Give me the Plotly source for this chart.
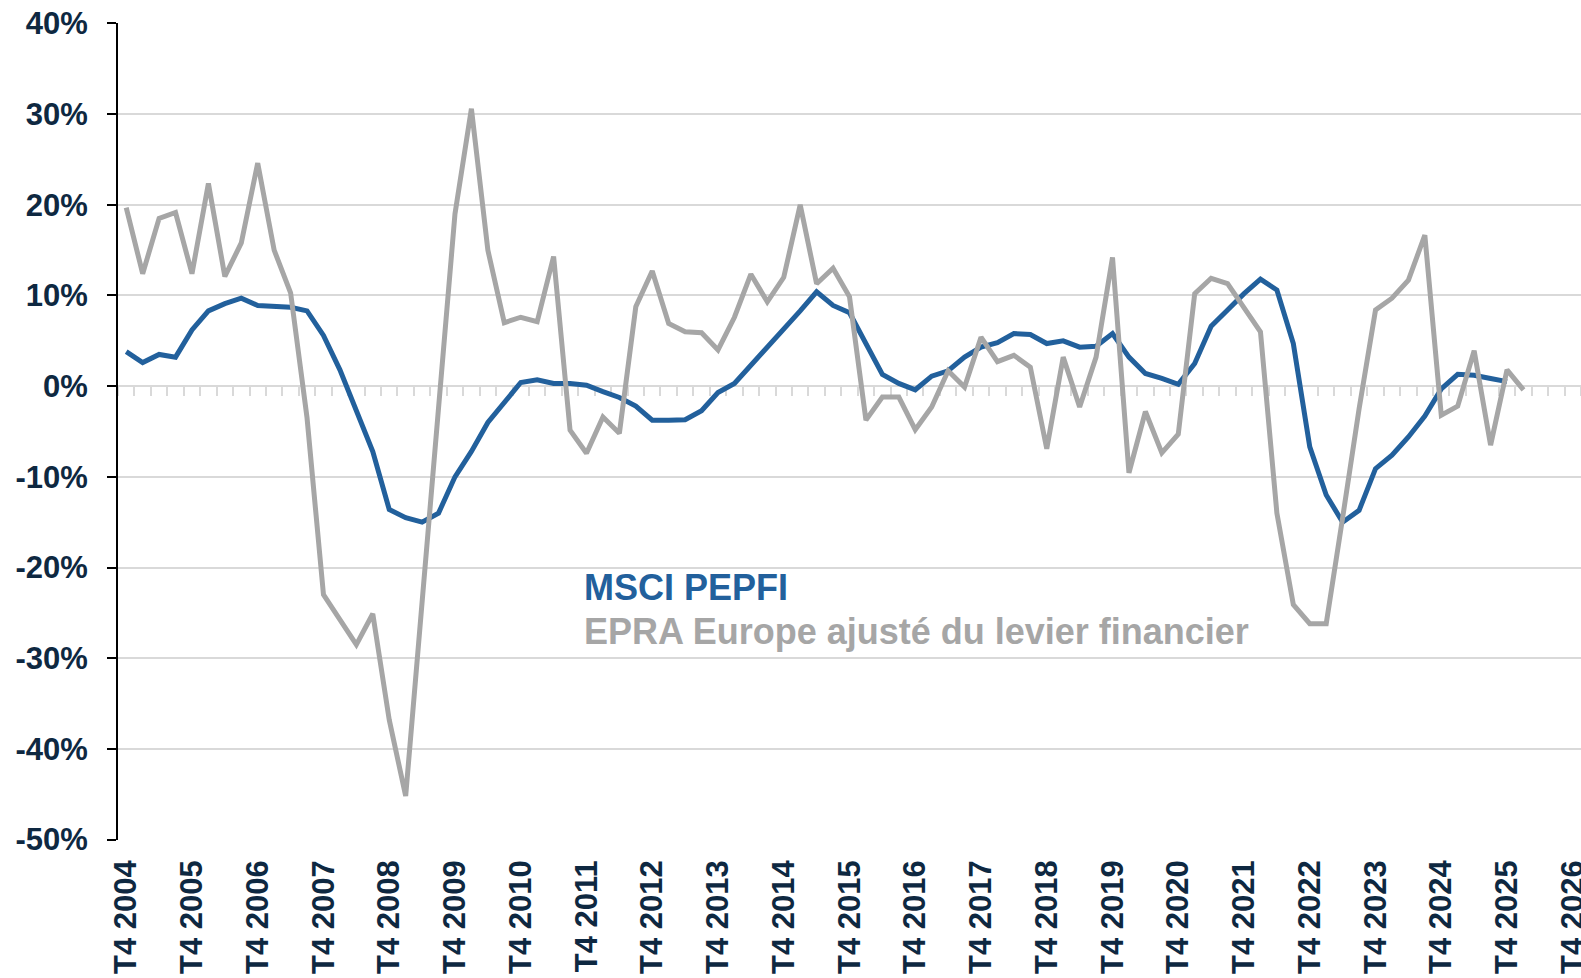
import plotly.graph_objects as go

# Quarterly categories: T4 2004 (index 0) ... T4 2026 (index 88)
years = list(range(2004, 2027))
tick_positions = [4 * k for k in range(len(years))]
tick_labels = ["T4 %d" % y for y in years]

# MSCI PEPFI (T4 2004 -> T4 2025)
msci = [3.8, 2.6, 3.5, 3.2, 6.2, 8.3, 9.1, 9.7, 8.9, 8.8,
        8.7, 8.3, 5.6, 1.8, -2.6, -7.2, -13.6, -14.5, -15.0, -14.0,
        -10.0, -7.2, -4.0, -1.7, 0.4, 0.7, 0.3, 0.3, 0.1, -0.6,
        -1.25, -2.2, -3.75, -3.75, -3.7, -2.7, -0.7, 0.3, 2.3, 4.15,
        6.2, 8.3, 10.4, 8.9, 8.1, 4.7, 1.3, 0.3, -0.4, 1.1,
        1.7, 3.2, 4.3, 4.8, 5.8, 5.7, 4.7, 5.0, 4.3, 4.4,
        5.8, 3.2, 1.4, 0.85, 0.2, 2.5, 6.6, 8.4, 10.2, 11.8,
        10.6, 4.7, -6.7, -12.0, -15.0, -13.7, -9.1, -7.6, -5.6, -3.3,
        -0.3, 1.3, 1.2, 0.85, 0.5]

# EPRA Europe ajusté du levier financier (T4 2004 -> T1 2026)
epra = [19.7, 12.4, 18.5, 19.15, 12.4, 22.35, 12.1, 15.8, 24.6, 15.0,
        10.3, -3.5, -23.0, -25.7, -28.5, -25.1, -36.8, -45.2, -24.0, -3.6,
        19.0, 30.6, 15.0, 7.0, 7.6, 7.1, 14.3, -4.85, -7.4, -3.4,
        -5.2, 8.75, 12.7, 6.9, 6.0, 5.9, 4.0, 7.6, 12.35, 9.3,
        12.0, 20.0, 11.3, 13.0, 9.85, -3.75, -1.2, -1.2, -4.8, -2.3,
        1.7, -0.1, 5.4, 2.7, 3.4, 2.1, -6.9, 3.2, -2.3, 3.2,
        14.2, -9.55, -2.8, -7.35, -5.3, 10.2, 11.9, 11.3, 8.75, 6.0,
        -14.0, -24.1, -26.2, -26.2, -14.5, -2.5, 8.4, 9.7, 11.7, 16.65,
        -3.2, -2.2, 3.9, -6.5, 1.8, -0.4]

y_ticks = [40, 30, 20, 10, 0, -10, -20, -30, -40, -50]
y_labels = ["40%", "30%", "20%", "10%", "0%", "-10%", "-20%", "-30%", "-40%", "-50%"]

n_cat = 89
BLUE = "#22609C"
GRAY = "#A6A6A6"
NAVY = "#0E2841"
GRID = "#D9D9D9"
FONT = "Liberation Sans, Arial, sans-serif"

fig = go.Figure()
fig.add_trace(go.Scatter(x=list(range(len(msci))), y=msci, mode="lines",
                         line=dict(color=BLUE, width=5), name="MSCI PEPFI",
                         showlegend=False))
fig.add_trace(go.Scatter(x=list(range(len(epra))), y=epra, mode="lines",
                         line=dict(color=GRAY, width=5),
                         name="EPRA Europe ajusté du levier financier",
                         showlegend=False, xaxis="x2"))

yr = [-50.05, 40.05]
xr = [-0.5, n_cat - 0.5]

fig.update_layout(
    width=1581, height=978,
    margin=dict(l=118, r=0, t=23, b=138, pad=0),
    paper_bgcolor="white", plot_bgcolor="white",
    showlegend=False,
    xaxis=dict(range=xr, tickvals=tick_positions, ticktext=tick_labels,
               tickangle=-90, showgrid=False, zeroline=False,
               showline=False, ticks="", automargin=False,
               ticklabelstandoff=13, ticklabeloverflow="allow",
               tickfont=dict(family=FONT, size=31, color=NAVY, weight="bold")),
    xaxis2=dict(range=xr, overlaying="x", anchor="free",
                position=(0 - yr[0]) / (yr[1] - yr[0]),
                tickvals=[k - 0.5 for k in range(n_cat + 1)],
                ticks="outside", ticklen=9, tickwidth=2, tickcolor=GRID,
                showticklabels=False, showgrid=False, zeroline=False,
                showline=False, layer="below traces", automargin=False),
    yaxis=dict(range=yr, tickvals=y_ticks, ticktext=y_labels,
               showgrid=True, gridcolor=GRID, gridwidth=2,
               zeroline=False, showline=True, linecolor="black", linewidth=2,
               ticks="outside", ticklen=9, tickwidth=2, tickcolor="black",
               ticklabelstandoff=13, automargin=False,
               tickfont=dict(family=FONT, size=31, color=NAVY, weight="bold")),
)

fig.add_annotation(x=27.75, y=-22.2, xref="x", yref="y", text="MSCI PEPFI",
                   showarrow=False, xanchor="left", yanchor="middle",
                   font=dict(family=FONT, size=36, color=BLUE, weight="bold"))
fig.add_annotation(x=27.75, y=-27.1, xref="x", yref="y",
                   text="EPRA Europe ajusté du levier financier",
                   showarrow=False, xanchor="left", yanchor="middle",
                   font=dict(family=FONT, size=36, color=GRAY, weight="bold"))

fig.write_html("out.html", config={"displayModeBar": False},
               post_script="document.body.style.margin='0';")
